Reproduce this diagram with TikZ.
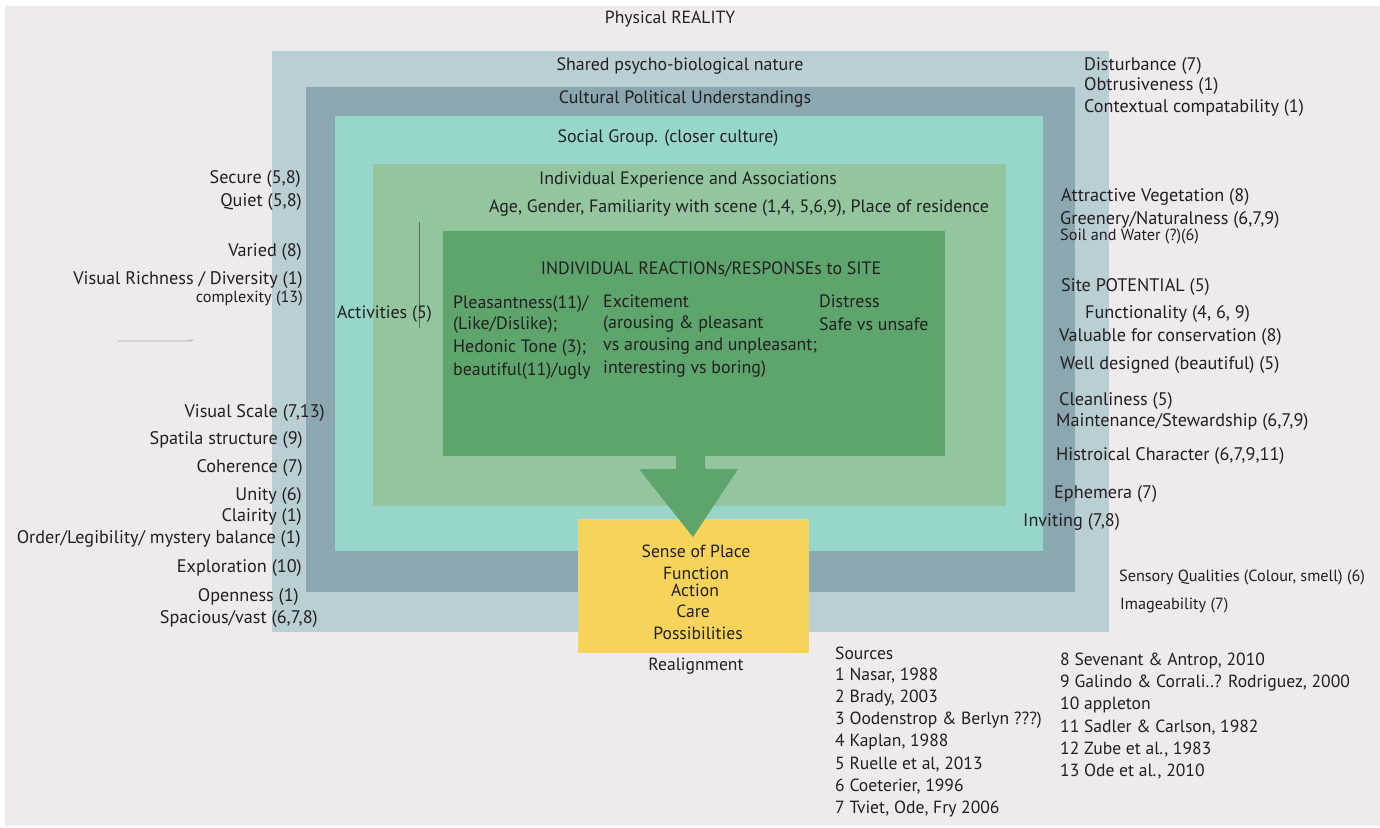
\documentclass[tikz,border=0pt]{standalone}
\usepackage{fontspec}
\setmainfont{PT Sans}
\usepackage{tikz}
\definecolor{paper}{RGB}{239,235,236}
\definecolor{nature}{RGB}{185,207,212}
\definecolor{culture}{RGB}{139,167,175}
\definecolor{social}{RGB}{150,214,203}
\definecolor{individual}{RGB}{147,198,159}
\definecolor{reaction}{RGB}{94,165,109}
\definecolor{place}{RGB}{246,211,91}
\definecolor{ink}{RGB}{35,31,32}

\begin{document}
\begin{tikzpicture}[x=1pt, y=-1pt,
  every node/.style={inner sep=0pt, text=ink, font=\fontsize{17.6}{20}\selectfont},
  factor/.style={anchor=east, font=\fontsize{18.2}{20}\selectfont},
  quality/.style={anchor=west, font=\fontsize{18.2}{20}\selectfont},
  source/.style={anchor=west},
  layer/.style={font=\fontsize{17.9}{20}\selectfont},
  small/.style={font=\fontsize{16.2}{18}\selectfont}]

\useasboundingbox (0,0) rectangle (1380,827);
\fill[white] (0,0) rectangle (1380,827);
\fill[paper] (5,6) rectangle (1380,826);

% nested layers, outside in
\foreach \col/\xa/\ya/\xb/\yb in {nature/272/51/1109/632, culture/306/87/1075/592,
    social/335/116/1043/551, individual/373/164/1006/506, reaction/443/231/945/456}
  \fill[\col] (\xa,\ya) rectangle (\xb,\yb);

\fill[place] (578,519) rectangle (809,653);
\fill[reaction] (676,450) -- (705,450) -- (705,469) -- (738,469) -- (693,537)
  -- (639,469) -- (676,469) -- cycle;

\draw[ink!70, line width=0.6pt] (419,222) -- (419,328);
\draw[gray!70, line width=0.8pt] (118,341) -- (188,341) -- (193,340);

\node (reality) at (670,19) {Physical REALITY};
\node[layer] (shared) at (680,66) {Shared psycho-biological nature};
\node[layer] (cultural) at (685,99) {Cultural Political Understandings};
\node[layer] (group) at (668,138) {Social Group. (closer culture)};
\node[layer] (experience) at (688,180) {Individual Experience and Associations};
\node[layer] (age) at (739,208) {Age, Gender, Familiarity with scene (1,4, 5,6,9), Place of residence};
\node[layer] (reactions) at (711,269) {INDIVIDUAL REACTIONs/RESPONSEs to SITE};
\node[factor, layer] (activities) at (432,314) {Activities (5)};

% reaction columns
\foreach \yy/\txt [count=\i] in {304/{Pleasantness(11)/}, 325/{(Like/Dislike);},
    348/{Hedonic Tone (3);}, 371/{beautiful(11)/ugly}}
  \node[quality, layer] (pleasant\i) at (453,\yy) {\txt};
\foreach \yy/\txt [count=\i] in {301/{Excitement}, 324/{(arousing \& pleasant},
    346/{vs arousing and unpleasant;}, 369/{interesting vs boring)}}
  \node[quality, layer] (excite\i) at (603,\yy) {\txt};
\node[quality, layer] (distress1) at (819,301) {Distress};
\node[quality, layer] (distress2) at (819,324) {Safe vs unsafe};

% left side factors
\foreach \xx/\yy/\txt [count=\i] in {301/179/{Secure (5,8)}, 302/202/{Quiet (5,8)},
    302/252/{Varied (8)}, 303/280/{Visual Richness / Diversity (1)},
    325/413/{Visual Scale (7,13)}, 303/440/{Spatila structure (9)},
    303/468/{Coherence (7)}, 302/496/{Unity (6)}, 302/517/{Clairity (1)},
    301/539/{Order/Legibility/ mystery balance (1)}, 302/568/{Exploration (10)},
    299/597/{Openness (1)}, 318/619/{Spacious/vast (6,7,8)}}
  \node[factor] (left\i) at (\xx,\yy) {\txt};
\node[factor, small] (complexity) at (303,299) {complexity (13)};

% right side qualities
\foreach \xx/\yy/\txt [count=\i] in {1084/66/{Disturbance (7)}, 1084/86/{Obtrusiveness (1)},
    1084/108/{Contextual compatability (1)}, 1061/197/{Attractive Vegetation (8)},
    1060/220/{Greenery/Naturalness (6,7,9)}, 1061/287/{Site POTENTIAL (5)},
    1085/314/{Functionality (4, 6, 9)}, 1059/337/{Valuable for conservation (8)},
    1060/365/{Well designed (beautiful) (5)}, 1059/401/{Cleanliness (5)},
    1056/422/{Maintenance/Stewardship (6,7,9)}, 1056/456/{Histroical Character (6,7,9,11)},
    1054/494/{Ephemera (7)}, 1023/522/{Inviting (7,8)}}
  \node[quality] (right\i) at (\xx,\yy) {\txt};
\node[quality, small] (soil) at (1060,237) {Soil and Water (?)(6)};
\node[quality, small] (sensory) at (1119,578) {Sensory Qualities (Colour, smell) (6)};
\node[quality, small] (image) at (1120,606) {Imageability (7)};

% sense of place
\foreach \xx/\yy/\txt [count=\i] in {696/551/{Sense of Place}, 696/573/Function,
    695/590/Action, 693/611/Care, 698/633/Possibilities}
  \node (sense\i) at (\xx,\yy) {\txt};
\node (realign) at (696,666) {Realignment};

% sources
\node[source] (sources) at (835,653) {Sources};
\foreach \txt [count=\i] in {{1 Nasar, 1988}, {2 Brady, 2003}, {3 Oodenstrop \& Berlyn ???)},
    {4 Kaplan, 1988}, {5 Ruelle et al, 2013}, {6 Coeterier, 1996}, {7 Tviet, Ode, Fry 2006}}
  \node[source] (src\i) at (835,{653+22.3*\i}) {\txt};
\foreach \txt [count=\i] in {{8 Sevenant \& Antrop, 2010}, {9 Galindo \& Corrali..? Rodriguez, 2000},
    {10 appleton}, {11 Sadler \& Carlson, 1982}, {12 Zube et al., 1983}, {13 Ode et al., 2010}}
  \node[source] (srcb\i) at (1060,{638.5+22.2*\i}) {\txt};
\end{tikzpicture}
\end{document}
